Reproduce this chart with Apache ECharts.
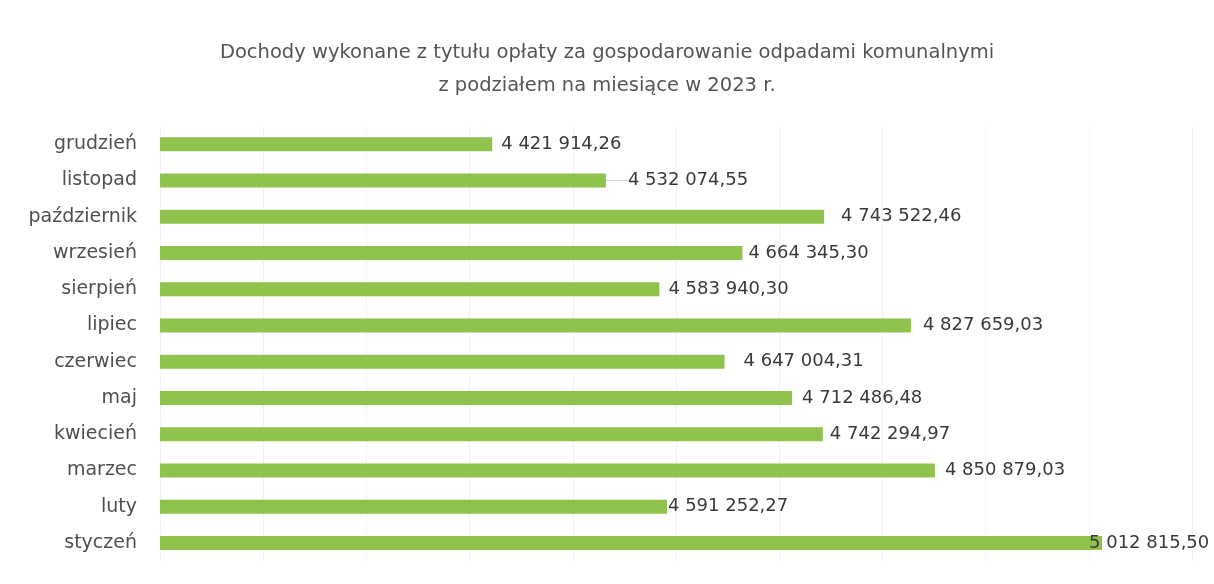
<!DOCTYPE html>
<html><head><meta charset="utf-8">
<script src="https://cdn.jsdelivr.net/npm/echarts@6/dist/echarts.min.js"></script>
<style>html,body{margin:0;padding:0;background:#fff}#c{width:1214px;height:584px}</style>
</head><body><div id="c"></div>
<script>
const categories = ['styczeń','luty','marzec','kwiecień','maj','czerwiec','lipiec','sierpień','wrzesień','październik','listopad','grudzień'];
const values = [5012815.50, 4591252.27, 4850879.03, 4742294.97, 4712486.48, 4647004.31, 4827659.03, 4583940.30, 4664345.30, 4743522.46, 4532074.55, 4421914.26];
const titleLines = ['Dochody wykonane z tytułu opłaty za gospodarowanie odpadami komunalnymi', 'z podziałem na miesiące w 2023 r.'];
// label gaps (style only), as placed in the original
const labelGaps = [-13, 1, 10, 7, 10, 19, 12, 9, 6, 17, 6, 9];
const movedLabel = 10; // listopad label moved right with a leader line
const movedBy = 16;

function fmt(v){
  const parts = v.toFixed(2).split('.');
  return parts[0].replace(/\B(?=(\d{3})+(?!\d))/g, ' ') + ',' + parts[1];
}
const chart = echarts.init(document.getElementById('c'));
chart.setOption({
  backgroundColor: '#fff',
  title: {
    text: titleLines.join('\n'),
    left: 'center', top: 31,
    textStyle: {fontFamily: 'DejaVu Sans', fontSize: 19.5, fontWeight: 'normal', color: '#555555', lineHeight: 33}
  },
  grid: {left: 160, right: 22, top: 126, bottom: 23},
  xAxis: {
    type: 'value', min: 4100000, max: 5100000, interval: 100000,
    axisLabel: {show: false}, axisLine: {show: false}, axisTick: {show: false},
    splitLine: {show: true, lineStyle: {color: '#f2f2f2', width: 1}}
  },
  yAxis: {
    type: 'category', data: categories,
    axisLine: {show: false}, axisTick: {show: false},
    axisLabel: {fontFamily: 'DejaVu Sans', fontSize: 19, color: '#505050', margin: 23}
  },
  series: [{
    type: 'bar',
    data: values.map((v, i) => ({value: v, label: {distance: labelGaps[i]},
      labelLine: {show: i === movedLabel, lineStyle: {color: '#d0d0d0', width: 1}}})),
    barWidth: 14,
    itemStyle: {color: '#90c24e'},
    label: {show: true, position: 'right', formatter: p => fmt(p.value),
      fontFamily: 'DejaVu Sans', fontSize: 18, color: '#3a3a3a', fontWeight: 'normal'},
    labelLayout: p => p.dataIndex === movedLabel ? {dx: movedBy} : {}
  }],
  animation: false
});
</script></body></html>
